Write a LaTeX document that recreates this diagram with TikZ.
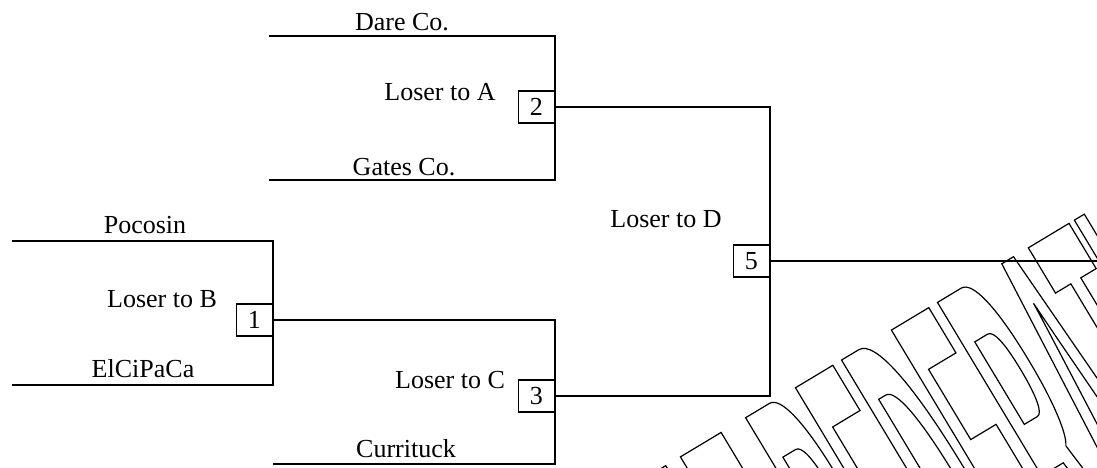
\documentclass[tikz,border=0pt]{standalone}
\usepackage{fontspec}
\setmainfont{Liberation Serif}
\newfontfamily\wmfont{Liberation Sans}[FakeStretch=0.17]
\usepackage{tikz}

\begin{document}
\begin{tikzpicture}[x=0.5pt,y=-0.5pt,line width=0.65pt,
  every node/.style={font=\fontsize{13}{15}\selectfont},
  game/.style={draw,line width=0.6pt,minimum width=18pt,minimum height=16pt,inner sep=0pt,anchor=east},
  team/.style={anchor=base,inner sep=0pt}]
  \useasboundingbox (0,0) rectangle (1097,467);
  \clip (0,0) rectangle (1097,467);
  % watermark, outlined letters
  \node[anchor=north west,inner sep=0pt,rotate=31,font=\wmfont\bfseries\fontsize{237}{240}\selectfont] (wm) at (634,484)
    {\special{pdf:literal direct 1 Tr 0.6 w}AT REDERATI\special{pdf:literal direct 0 Tr}};
  % first round lines
  \coordinate (dareL) at (269,36);   \coordinate (dareR) at (555,36);
  \coordinate (gatesL) at (269,180); \coordinate (gatesR) at (555,180);
  \coordinate (pocL) at (12,241);    \coordinate (pocR) at (273,241);
  \coordinate (elciL) at (12,385);   \coordinate (elciR) at (273,385);
  \coordinate (currL) at (273,464);  \coordinate (currR) at (555,464);
  \coordinate (c1) at (555,320);
  \coordinate (c2) at (770,107);
  \coordinate (c3) at (770,396);
  \coordinate (c5) at (1097,261);
  % games
  \node[game] (g2) at (555,107) {2};
  \node[game] (g1) at (273,320) {1};
  \node[game] (g3) at (555,396) {3};
  \node[game] (g5) at (770,261) {5};
  % teams
  \node[team] (dare) at (402,30) {Dare Co.};
  \node[team] (gates) at (404,175) {Gates Co.};
  \node[team] (poc) at (145,233) {Pocosin};
  \node[team] (elci) at (143,377) {ElCiPaCa};
  \node[team] (curr) at (406,457) {Currituck};
  \node[team] (la) at (440,100) {Loser to A};
  \node[team] (lb) at (162,307) {Loser to B};
  \node[team] (lc) at (450,388) {Loser to C};
  \node[team] (ld) at (666,227) {Loser to D};
  % bracket
  \draw (dareL) -- (dareR) -- (gatesR) -- (gatesL);
  \draw (pocL) -- (pocR) -- (elciR) -- (elciL);
  \draw (g1.east) -- (c1) -- (currR) -- (currL);
  \draw (g2.east) -- (c2) -- (c3) -- (g3.east);
  \draw (g5.east) -- (c5);
\end{tikzpicture}
\end{document}
